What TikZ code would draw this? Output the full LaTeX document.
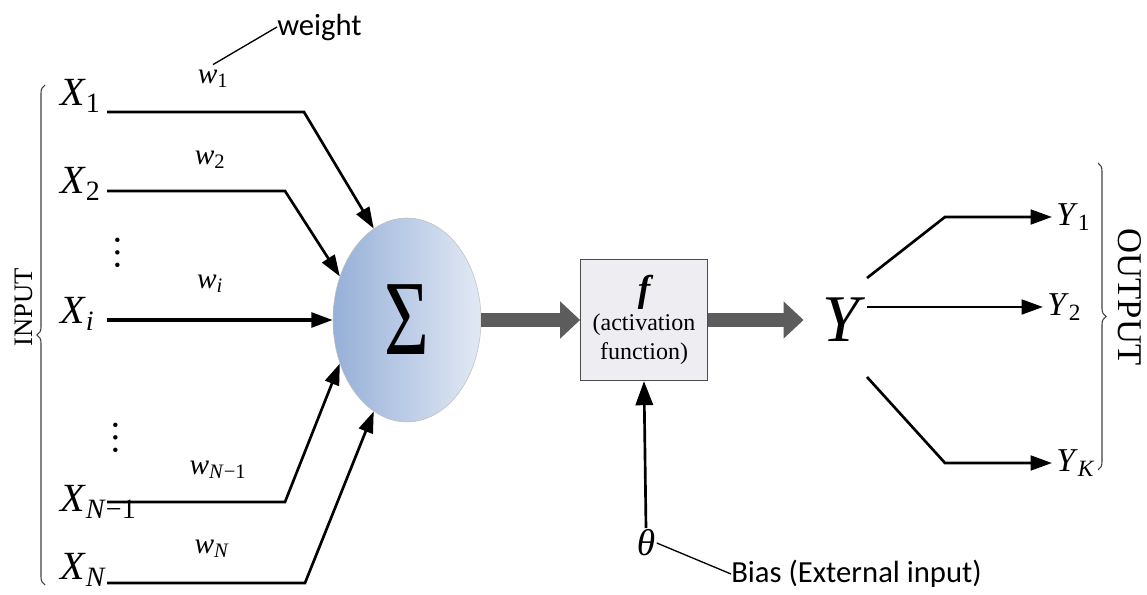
\documentclass[tikz,border=0pt]{standalone}
\usepackage{fontspec}
\setmainfont{Liberation Serif}
\newfontfamily\notefont{Carlito}
\usetikzlibrary{arrows.meta,shapes.geometric,decorations.pathreplacing}

\definecolor{sumblue}{RGB}{150,176,216}
\definecolor{sumlight}{RGB}{226,233,244}
\definecolor{flowgray}{RGB}{92,92,92}
\definecolor{boxfill}{RGB}{238,238,242}

\newcommand{\varsub}[2]{\textit{#1}\textsubscript{#2}}

\begin{document}
\begin{tikzpicture}[x=0.75pt,y=-0.75pt,
  wire/.style={line width=2pt},
  inarrow/.style={wire,-{Triangle[length=16pt,width=11pt]}},
  flow/.style={flowgray,line width=10pt,-{Triangle[length=15pt,width=27pt]}},
  inp/.style={anchor=west,inner sep=0pt,font=\fontsize{30}{30}\selectfont},
  wlab/.style={inner sep=0pt,font=\fontsize{22}{22}\selectfont},
  outp/.style={anchor=west,inner sep=3pt,font=\fontsize{25}{25}\selectfont},
  note/.style={inner sep=0pt,font=\notefont\fontsize{23}{23}\selectfont},
  dots/.style={inner sep=0pt,font=\fontsize{28}{28}\selectfont},
  brc/.style={decorate,decoration={brace,amplitude=6pt},line width=0.8pt,black!75}]
  \useasboundingbox (0,0) rectangle (1147,595);

  % inputs
  \node[inp] (x1) at (60,96) {\varsub{X}{1}};
  \node[inp] (x2) at (60,184) {\varsub{X}{2}};
  \node[inp] (xi) at (60,314) {\varsub{X}{\textit{i}}};
  \node[inp] (xn1) at (60,502) {\varsub{X}{\textit{N}−1}};
  \node[inp] (xn) at (60,570) {\varsub{X}{\textit{N}}};
  \node[dots] (d1) at (118,253) {\rotatebox{90}{…}};
  \node[dots] (d2) at (116,438) {\rotatebox{90}{…}};

  % weights
  \node[wlab] (w1) at (213,79) {\varsub{w}{1}};
  \node[wlab] (w2) at (210,160) {\varsub{w}{2}};
  \node[wlab] (wi) at (210,284) {\varsub{w}{\textit{i}}};
  \node[wlab] (wn1) at (218,470) {\varsub{w}{\textit{N}−1}};
  \node[wlab] (wn) at (212,549) {\varsub{w}{\textit{N}}};
  \node[note,anchor=west] (weight) at (277,27) {weight};
  \draw[line width=1pt] ([yshift=4pt]w1.north) -- (weight.west);

  % summing junction
  \node[ellipse,minimum width=111pt,minimum height=153pt,inner sep=0pt,
    draw=black!25,shading=axis,left color=sumblue,right color=sumlight] (sum) at (407,320)
    {\fontsize{80}{80}\selectfont\scalebox{0.72}[1]{Σ}};

  \coordinate (s1) at (107,112);
  \coordinate (s2) at (107,191);
  \coordinate (s3) at (107,320);
  \coordinate (s4) at (107,502);
  \coordinate (s5) at (107,583);
  \coordinate (b1) at (304,112);
  \coordinate (b2) at (285,191);
  \coordinate (b4) at (285,502);
  \coordinate (b5) at (305,583);
  \draw[inarrow] (s1) -- (b1) -- (sum.110);
  \draw[inarrow] (s2) -- (b2) -- (sum.147);
  \draw[inarrow,line width=2.6pt] (s3) -- (sum.west);
  \draw[inarrow] (s4) -- (b4) -- (sum.213);
  \draw[inarrow] (s5) -- (b5) -- (sum.250);

  % activation
  \node[draw=black!70,line width=0.8pt,fill=boxfill,minimum width=95pt,minimum height=91pt,
    align=center,font=\fontsize{18}{22}\selectfont] (act) at (644,320)
    {{\fontsize{28}{28}\selectfont\bfseries\itshape f}\\(activation\\function)};
  \node[inner sep=0pt,font=\fontsize{50}{50}\selectfont] (y) at (844,320) {\textit{Y}};
  \draw[flow] (sum.east) -- (act.west);
  \draw[flow,shorten >=14pt] (act.east) -- (y.west);

  % bias
  \node[inner sep=1pt,font=\fontsize{28}{28}\selectfont] (theta) at (646,543) {\textit{θ}};
  \node[note,anchor=west] (bias) at (731,574) {Bias (External input)};
  \draw[wire,-{Triangle[length=18pt,width=13pt]}] (theta.north) -- (act.south);
  \draw[line width=1pt] (theta.east) -- (bias.west);

  % outputs
  \node[outp] (y1) at (1052,217) {\varsub{Y}{1}};
  \node[outp] (y2) at (1043,307) {\varsub{Y}{2}};
  \node[outp] (yk) at (1052,463) {\varsub{Y}{\textit{K}}};
  \coordinate (o1) at (867,278);
  \coordinate (o2) at (867,307);
  \coordinate (o3) at (867,377);
  \coordinate (c1) at (945,217);
  \coordinate (c3) at (945,463);
  \draw[inarrow] (o1) -- (c1) -- (y1.west);
  \draw[inarrow] (o2) -- (y2.west);
  \draw[inarrow] (o3) -- (c3) -- (yk.west);

  % braces
  \draw[brc] (45,585) -- (45,85);
  \node[rotate=90,inner sep=0pt,font=\fontsize{20}{20}\selectfont] (inlab) at (24,307) {INPUT};
  \draw[brc] (1098,163) -- (1098,470);
  \node[rotate=-90,inner sep=0pt,font=\fontsize{26}{26}\selectfont] (outlab) at (1130,297) {OUTPUT};
\end{tikzpicture}
\end{document}
